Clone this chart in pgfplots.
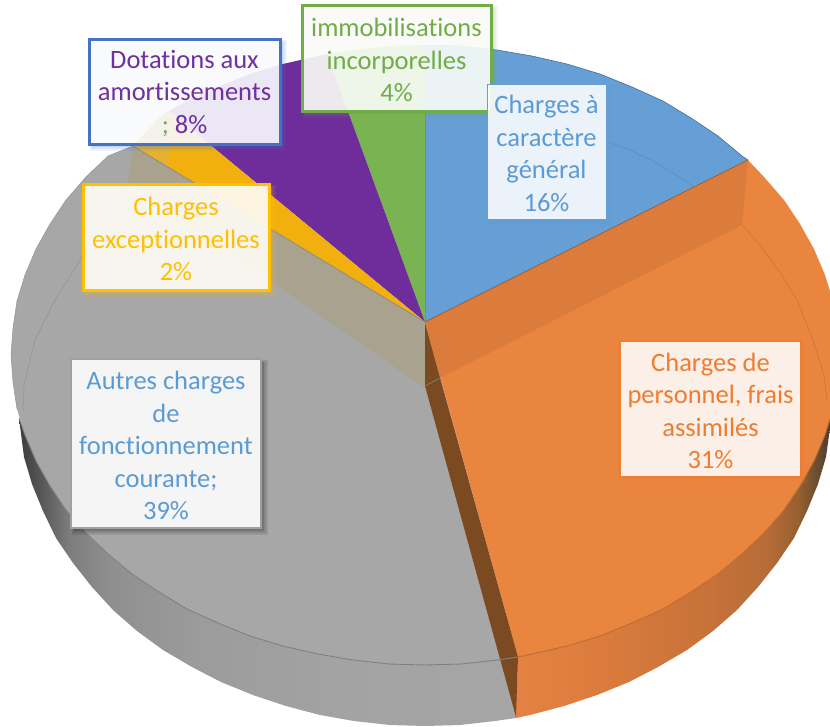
\documentclass[border=0pt]{standalone}
\usepackage{fontspec}
\setmainfont[Ligatures=CommonOff]{Carlito}
\usepackage{pgfplots}
\pgfplotsset{compat=1.18}
\definecolor{cblue}{HTML}{659FD6}
\definecolor{corange}{HTML}{EA8540}
\definecolor{cband}{HTML}{DB7C3D}
\definecolor{cgray}{HTML}{A7A7A7}
\definecolor{ctan}{HTML}{A9A28F}
\definecolor{cyellow}{HTML}{F2B00F}
\definecolor{cyellowb}{HTML}{E6B030}
\definecolor{cpurple}{HTML}{6F2C9B}
\definecolor{cgreen}{HTML}{7AB352}
\definecolor{cbrown}{HTML}{7C4A21}
\definecolor{tblue}{HTML}{5B9BD5}
\definecolor{torange}{HTML}{ED7D31}
\definecolor{tgold}{HTML}{FFC000}
\definecolor{tgreen}{HTML}{70AD47}
\definecolor{tpurple}{HTML}{7030A0}
\definecolor{bblue}{HTML}{4472C4}
\definecolor{bgray}{HTML}{A0A0A0}
\pgfdeclarehorizontalshading{grayside}{100bp}{
 color(0bp)=(black!76); color(25bp)=(black!76); color(27bp)=(black!67); color(30bp)=(black!51);
 color(34bp)=(black!44); color(43bp)=(black!39); color(58bp)=(black!36); color(75bp)=(black!35); color(100bp)=(black!35)}
\pgfdeclarehorizontalshading{orangeside}{100bp}{
 rgb(0bp)=(.898,.510,.263); rgb(25bp)=(.898,.510,.263); rgb(38bp)=(.859,.486,.239); rgb(54bp)=(.788,.451,.224);
 rgb(65bp)=(.722,.424,.220); rgb(70bp)=(.588,.376,.184); rgb(73.4bp)=(.396,.290,.188); rgb(75bp)=(.29,.235,.188); rgb(100bp)=(.29,.235,.188)}
\newcommand{\lab}[8]{%
 \fill[#8,opacity=.09] (axis cs:#1+1,#2+1) rectangle (axis cs:#3+7,#4+7);
 \fill[#8,opacity=.11] (axis cs:#1+2,#2+2) rectangle (axis cs:#3+5,#4+5);
 \fill[#8,opacity=.14] (axis cs:#1+3,#2+3) rectangle (axis cs:#3+3,#4+3);
 \fill[white] (axis cs:#1,#2) rectangle (axis cs:#3,#4);
 \fill[#5,opacity=.1] (axis cs:#1,#2) rectangle (axis cs:#3,#4);
 \draw[#5,line width=#6] (axis cs:#1,#2) rectangle (axis cs:#3,#4);
 \node[align=center,inner sep=0pt,yshift=-2pt,font=\fontsize{26.5}{32.5}\selectfont] at (axis cs:{(#1+#3)/2},{(#2+#4)/2}) {#7};
}
\newcommand{\labt}[8]{%
 \fill[#8,opacity=.09] (axis cs:#1+1,#2+1) rectangle (axis cs:#3+7,#4+7);
 \fill[#8,opacity=.11] (axis cs:#1+2,#2+2) rectangle (axis cs:#3+5,#4+5);
 \fill[#8,opacity=.14] (axis cs:#1+3,#2+3) rectangle (axis cs:#3+3,#4+3);
 \fill[white,opacity=.88] (axis cs:#1,#2) rectangle (axis cs:#3,#4);
 \draw[#5,line width=#6] (axis cs:#1,#2) rectangle (axis cs:#3,#4);
 \node[align=center,inner sep=0pt,yshift=-2pt,font=\fontsize{26.5}{32.5}\selectfont] at (axis cs:{(#1+#3)/2},{(#2+#4)/2}) {#7};
}
\begin{document}
\begin{tikzpicture}
\begin{axis}[scale only axis,width=830pt,height=726pt,xmin=0,xmax=830,ymin=0,ymax=726,y dir=reverse,hide axis,no markers]
\path (axis cs:0,0) rectangle (axis cs:830,726);
% blue
\addplot[fill=cblue,draw=black!30!cblue,line width=.6pt] coordinates {(425,322)(425,45)(461,46)(497,50)(532,56)(567,64)(600,74)(632,87)(663,101)(691,118)(718,136)(742,156)(748,160)(425,322)};
% green
\addplot[fill=cgreen,draw=none] coordinates {(425,322)(327,54)(353,50)(389,46)(425,45)(425,322)};
% purple
\addplot[fill=cpurple,draw=none] coordinates {(425,322)(169,111)(187,101)(218,87)(250,74)(283,64)(318,56)(327,54)(425,322)};
% yellow
\addplot[fill=cyellow,draw=none] coordinates {(425,322)(133,146)(159,118)(169,111)(425,322)};
\addplot[fill=cyellowb,draw=none] coordinates {(133,146)(159,118)(169,111)(170,168)(133,146)};
% sides
\addplot[shade,shading=grayside,draw=none] coordinates {(19,418)(25,435)(36,461)(50,486)(66,510)(86,533)(108,554)(132,574)(159,592)(187,609)(218,623)(250,636)(283,646)(318,654)(353,660)(389,664)(425,665)(461,664)(497,660)(518,657)(516,718)(495,721)(460,725)(425,726)(390,725)(354,721)(320,715)(286,706)(253,695)(221,682)(192,667)(163,650)(137,631)(113,610)(92,587)(73,563)(56,538)(43,511)(32,484)(24,457)(19,418)};
\addplot[shade,shading=orangeside,draw=none] coordinates {(516,718)(530,715)(564,706)(597,695)(629,682)(658,667)(687,650)(713,631)(737,610)(758,587)(777,563)(794,538)(807,511)(818,484)(826,457)(830,428)(830,419)(825,435)(814,461)(800,486)(784,510)(764,533)(742,554)(718,574)(691,592)(663,609)(632,623)(600,636)(567,646)(532,654)(518,657)(516,718)};
% gray face
\addplot[fill=cgray,draw=none] coordinates {(425,322)(133,146)(108,156)(86,177)(66,200)(50,224)(36,249)(25,275)(17,301)(13,328)(11,355)(13,382)(17,409)(25,435)(36,461)(50,486)(66,510)(86,533)(108,554)(132,574)(159,592)(187,609)(218,623)(250,636)(283,646)(318,654)(353,660)(389,664)(425,665)(461,664)(497,660)(518,657)(425,322)};
\addplot[fill=ctan,draw=none] coordinates {(425,322)(133,146)(128,182)(425,388)(425,322)};
\addplot[draw=black!42,line width=.5pt] coordinates {(133,146)(108,156)(86,177)(66,200)(50,224)(36,249)(25,275)(17,301)(13,328)(11,355)(13,382)(17,409)};
% orange face
\addplot[fill=corange,draw=none] coordinates {(425,322)(748,160)(764,177)(784,200)(800,224)(814,249)(825,275)(830,291)(830,419)(825,435)(814,461)(800,486)(784,510)(764,533)(742,554)(718,574)(691,592)(663,609)(632,623)(600,636)(567,646)(532,654)(518,657)(425,322)};
\addplot[fill=cband,draw=none] coordinates {(425,322)(748,160)(742,225)(440,378)(425,322)};
\addplot[fill=cbrown,draw=none] coordinates {(425,323)(440,378)(518,657)(516,717)(425,386)(425,323)};
% rims
\addplot[draw=black!50,line width=.9pt] coordinates {(19,418)(25,435)(36,461)(50,486)(66,510)(86,533)(108,554)(132,574)(159,592)(187,609)(218,623)(250,636)(283,646)(318,654)(353,660)(389,664)(425,665)(461,664)(497,660)(518,657)};
\addplot[draw=black!20!corange!85!brown,line width=1pt] coordinates {(518,657)(532,654)(567,646)(600,636)(632,623)(663,609)(691,592)(718,574)(742,554)(764,533)(784,510)(800,486)(814,461)(825,435)(830,419)};
\addplot[draw=black!50,line width=.5pt] coordinates {(425,322)(133,146)};
\addplot[draw=black!25!cband,line width=.7pt] coordinates {(425,322)(748,160)};
\addplot[draw=black!45,line width=.5pt] coordinates {(440,378)(425,386)};
% inner rings
\addplot[draw=black!12!cblue,line width=.5pt] coordinates {(608,142)(630,150)(655,162)(676,175)(694,187)};
\addplot[draw=black!15!corange,line width=.5pt] coordinates {(742,225)(760,245)(781,274)(797,300)(813,340)(824,375)(827,400)};
\addplot[draw=black!12!cgray,line width=.5pt] coordinates {(128,182)(103,220)(82,257)(55,300)(35,340)(24,385)(23,410)};
% labels
\labt{302}{5}{491}{111}{tgreen}{3pt}{\color{tgreen}immobilisations\\\color{tgreen}incorporelles\\\color{tgreen}4\%}{tgreen}
\labt{89}{39}{280}{144}{bblue}{3pt}{\color{tpurple}Dotations aux\\\color{tpurple}amortissements\\{\color{tgreen};} \color{tpurple}8\%}{bblue}
\labt{487}{84}{606}{219}{cblue}{1pt}{\color{tblue}Charges à\\\color{tblue}caractère\\\color{tblue}général\\\color{tblue}16\%}{tblue}
\labt{620}{341}{801}{477}{torange}{1.5pt}{\color{torange}Charges de\\\color{torange}personnel, frais\\\color{torange}assimilés\\\color{torange}31\%}{torange}
\labt{83}{184}{269}{290}{tgold}{3pt}{\color{tgold}Charges\\\color{tgold}exceptionnelles\\\color{tgold}2\%}{tgold}
\lab{71}{359}{261}{528}{bgray}{2.5pt}{\color{tblue}Autres charges\\\color{tblue}de\\\color{tblue}fonctionnement\\\color{tblue}courante;\\\color{tblue}39\%}{black}
\end{axis}
\end{tikzpicture}
\end{document}
